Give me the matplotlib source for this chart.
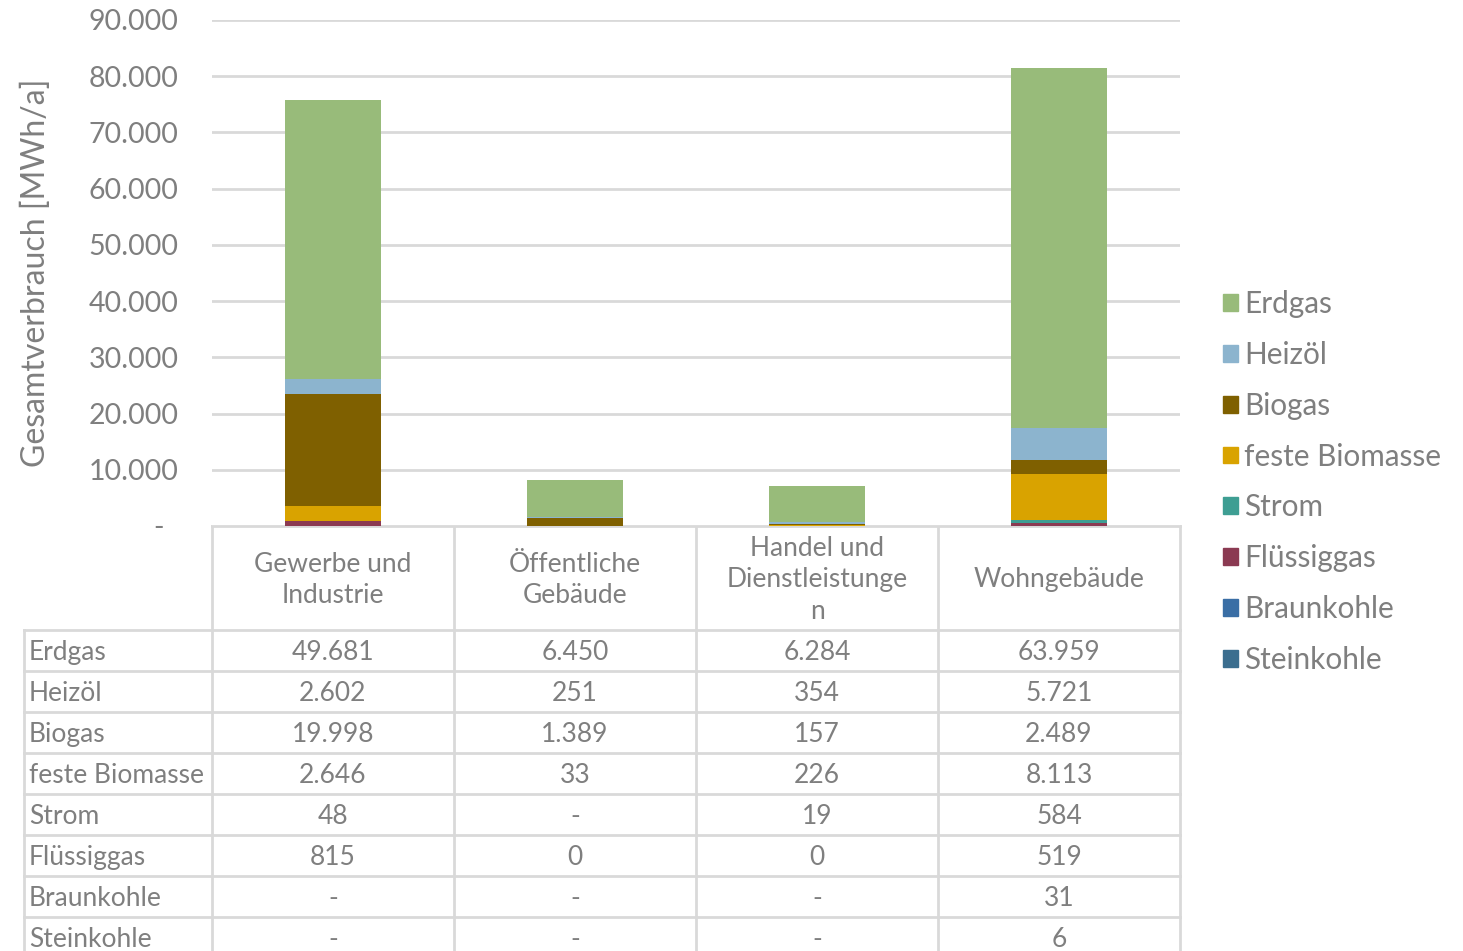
import numpy as np
import matplotlib.pyplot as plt
from matplotlib.patches import Patch

plt.rcParams['font.family'] = ['Lato', 'DejaVu Sans']

sectors = ['Gewerbe und\nIndustrie', 'Öffentliche\nGebäude', 'Handel und\nDienstleistunge\nn', 'Wohngebäude']
carriers = ['Erdgas', 'Heizöl', 'Biogas', 'feste Biomasse', 'Strom', 'Flüssiggas', 'Braunkohle', 'Steinkohle']

# MWh/a per sector, None = "-" in the table
erdgas = [49681, 6450, 6284, 63959]
heizoel = [2602, 251, 354, 5721]
biogas = [19998, 1389, 157, 2489]
feste_biomasse = [2646, 33, 226, 8113]
strom = [48, None, 19, 584]
fluessiggas = [815, 0, 0, 519]
braunkohle = [None, None, None, 31]
steinkohle = [None, None, None, 6]

series = [erdgas, heizoel, biogas, feste_biomasse, strom, fluessiggas, braunkohle, steinkohle]
colors = ['#98BB7A', '#8CB4CE', '#7F6000', '#D9A300', '#3E9E93', '#8B3A52', '#3A6EA5', '#3B6E8F']

yticks = np.arange(0, 90001, 10000)
grey = '#7F7F7F'
gridc = '#D9D9D9'
fs = 19

W, H = 1463, 951
fig = plt.figure(figsize=(W / 100, H / 100), dpi=100)

x0, x1, y0, y1 = 212, 1180, 526, 20
ax = fig.add_axes([x0 / W, 1 - y0 / H, (x1 - x0) / W, (y0 - y1) / H])

x = np.arange(len(sectors))
bottom = np.zeros(len(sectors))
# stack from the last series (bottom) up to Erdgas
for vals, c in zip(series[::-1], colors[::-1]):
    v = np.array([0 if s is None else s for s in vals], dtype=float)
    ax.bar(x, v, 0.4, bottom=bottom, color=c, zorder=3)
    bottom += v

ax.set_xlim(-0.5, len(sectors) - 0.5)
ax.set_ylim(0, 90000)
ax.set_yticks(yticks)
ax.set_yticklabels(['-  '] + [f'{t:,}'.replace(',', '.') for t in yticks[1:]])
ax.set_xticks([])
ax.tick_params(axis='y', length=0, pad=24, labelsize=20.5, labelcolor=grey)
ax.grid(axis='y', color=gridc, lw=2, zorder=0)
for s in ['top', 'right', 'left', 'bottom']:
    ax.spines[s].set_visible(False)
ax.set_ylabel('Gesamtverbrauch [MWh/a]', fontsize=23, color=grey, labelpad=27)

handles = [Patch(color=c, label=l) for c, l in zip(colors, carriers)]
fig.legend(handles=handles, loc='center left', bbox_to_anchor=(1196 / W, 1 - 482 / H),
           frameon=False, fontsize=21.4, labelcolor=grey, handlelength=0.5,
           handleheight=0.5, handletextpad=0.22, labelspacing=0.77)

# data table below the chart, drawn in pixel coordinates
tab = fig.add_axes([0, 0, 1, 1], zorder=-1)
tab.set_xlim(0, W)
tab.set_ylim(H, 0)
tab.axis('off')

cw = (x1 - x0) / len(sectors)
hdr_bot = 630
rh = 41
tl = 24
lw = 2
n_rows = len(carriers)
bot = hdr_bot + rh * n_rows + 5

tab.plot([x0, x1], [y0, y0], color=gridc, lw=lw)
for i in range(len(sectors) + 1):
    tab.plot([x0 + i * cw] * 2, [y0, bot], color=gridc, lw=lw)
tab.plot([tl, tl], [hdr_bot, bot], color=gridc, lw=lw)
for r in range(n_rows + 1):
    tab.plot([tl, x1], [hdr_bot + r * rh] * 2, color=gridc, lw=lw)

for i, s in enumerate(sectors):
    tab.text(x0 + (i + 0.5) * cw, (y0 + hdr_bot) / 2 + 2, s, ha='center', va='center',
             fontsize=fs, color=grey, linespacing=1.33)

for r, (name, vals) in enumerate(zip(carriers, series)):
    yc = hdr_bot + (r + 0.5) * rh + 2
    tab.text(tl + 5, yc, name, ha='left', va='center', fontsize=fs, color=grey)
    for i, v in enumerate(vals):
        t = '-' if v is None else f'{v:,}'.replace(',', '.')
        tab.text(x0 + (i + 0.5) * cw, yc, t, ha='center', va='center', fontsize=fs, color=grey)

fig.savefig('out.png', dpi=100)
